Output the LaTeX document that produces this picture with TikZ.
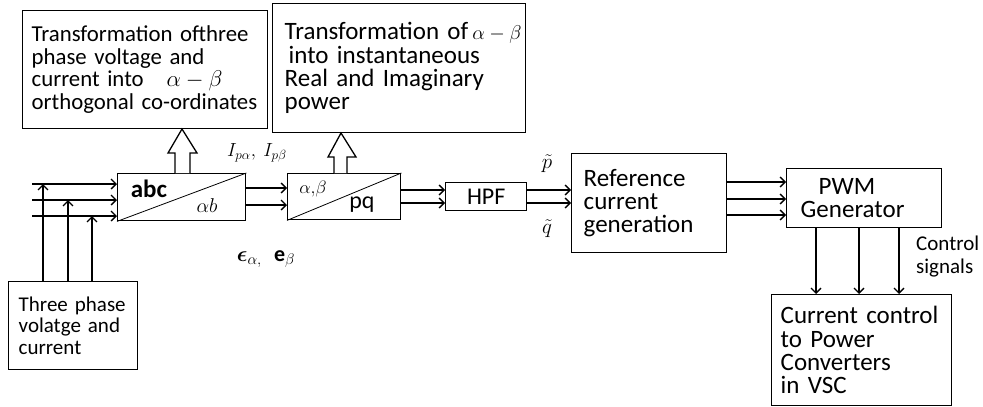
\RequirePackage{fix-cm}
\documentclass[tikz,border=0pt]{standalone}
\usepackage{amsmath}
\usepackage{bm}
\usepackage{fontspec}
\setmainfont{Carlito}
\usetikzlibrary{arrows.meta}

\tikzset{
	blk/.style={draw, line width=1.4pt, anchor=north west, align=left, inner ysep=0pt},
	unit/.style={draw, line width=1.4pt, anchor=north west, inner sep=0pt},
	sig/.style={line width=1.3pt, -{Straight Barb[length=5pt,width=10pt]}},
	hollow/.style={draw, line width=1.3pt, fill=white},
}
\newcommand{\fs}[2]{\fontsize{#1}{#2}\selectfont}

\begin{document}
\begin{tikzpicture}[x=1pt,y=-1pt]
	% page frame
	\fill[white] (0,0) rectangle (983,407);
	\useasboundingbox (0,0) rectangle (983,407);
	
	% text boxes
	\node[blk, inner xsep=9pt, text width=227pt, minimum height=118pt, font=\fs{22.8}{22.5}] (clarke) at (22,10)
	{Transformation ofthree\\phase voltage and\\current into\quad $\alpha-\beta$\\orthogonal co-ordinates};
	\node[blk, inner xsep=12pt, text width=229pt, minimum height=129pt, font=\fs{25}{23.3}] (power) at (272,3)
	{\mbox{Transformation of\,{\fs{20}{23}$\alpha-\beta$}}\\\hspace*{4pt}into instantaneous\\Real and Imaginary\\power};
	\node[blk, inner xsep=10pt, text width=109pt, minimum height=88pt, font=\fs{21}{21.7}] (src) at (8,281)
	{Three phase\\volatge and\\current};
	\node[blk, inner xsep=12pt, text width=131pt, minimum height=99pt, font=\fs{25}{23}] (ref) at (571,153)
	{Reference\\current\\generation};
	\node[blk, inner xsep=14pt, text width=127pt, minimum height=59pt, font=\fs{25}{23}] (pwm) at (786,168)
	{\hspace*{18pt}PWM\\Generator};
	\node[blk, inner xsep=9pt, text width=162pt, minimum height=111pt, font=\fs{25}{23.3}] (vsc) at (771,294)
	{Current control\\to Power\\Converters\\in VSC};
	
	% transformation units
	\node[unit, minimum width=128pt, minimum height=47pt] (abc) at (117,173) {};
	\draw[line width=0.8pt] (abc.south west) -- (abc.north east);
	\node[font=\bfseries\fs{25}{25}] (abclbl) at (149,189) {abc};
	\node[font=\fs{20}{20}] (ablbl) at (207,206) {$\alpha b$};
	
	\node[unit, minimum width=113pt, minimum height=46pt] (pq) at (287,173) {};
	\draw[line width=0.8pt] (pq.south west) -- (pq.north east);
	\node[font=\fs{18}{18}] (albelbl) at (313,189) {$\alpha{,}\beta$};
	\node[font=\fs{24}{24}] (pqlbl) at (362,205) {pq};
	
	\node[unit, minimum width=81pt, minimum height=28pt, font=\fs{24}{24}] (hpf) at (445,182) {HPF};
	
	% hollow arrows up to the text boxes
	\draw[hollow] (175,173) -- (175,153) -- (168,153) -- (182,129) -- (197,153) -- (190,153) -- (190,173);
	\draw[hollow] (334,173) -- (334,157) -- (328,157) -- (341,133) -- (356,157) -- (347,157) -- (347,173);
	
	% three phase inputs
	\foreach \y in {184,200,216}
	\draw[sig] (32,\y) -- (abc.west |- 0,\y);
	\foreach \x/\y in {43/184,68/200,92/216}
	\draw[sig] (\x,0 |- src.north) -- (\x,\y);
	
	% signal paths
	\foreach \y in {188,205}
	\draw[sig] (abc.east |- 0,\y) -- (pq.west |- 0,\y);
	\foreach \y in {190,203}
	\draw[sig] (pq.east |- 0,\y) -- (hpf.west |- 0,\y);
	\foreach \y in {190,203}
	\draw[sig] (hpf.east |- 0,\y) -- (ref.west |- 0,\y);
	\foreach \y in {182,199,215}
	\draw[sig] (ref.east |- 0,\y) -- (pwm.west |- 0,\y);
	\foreach \x in {816,859,899}
	\draw[sig] (\x,0 |- pwm.south) -- (\x,0 |- vsc.north);
	
	% labels
	\node[font=\fs{19}{19}] (ilbl) at (257,153) {$I_{p\alpha},\ I_{p\beta}$};
	\node[font=\fs{22}{22}] (elbl) at (266,259) {$\bm{\epsilon}_{\alpha,}\;\;\mathbf{e}_{\beta}$};
	\node[font=\fs{21}{21}, inner sep=1pt] (plbl) at (547,164) {$\tilde{p}$};
	\node[font=\fs{21}{21}, inner sep=1pt] (qlbl) at (547,229) {$\tilde{q}$};
	\node[anchor=west, align=left, inner sep=0pt, font=\fs{21}{23}] (ctrl) at (916,257) {Control\\signals};
\end{tikzpicture}
\end{document}
